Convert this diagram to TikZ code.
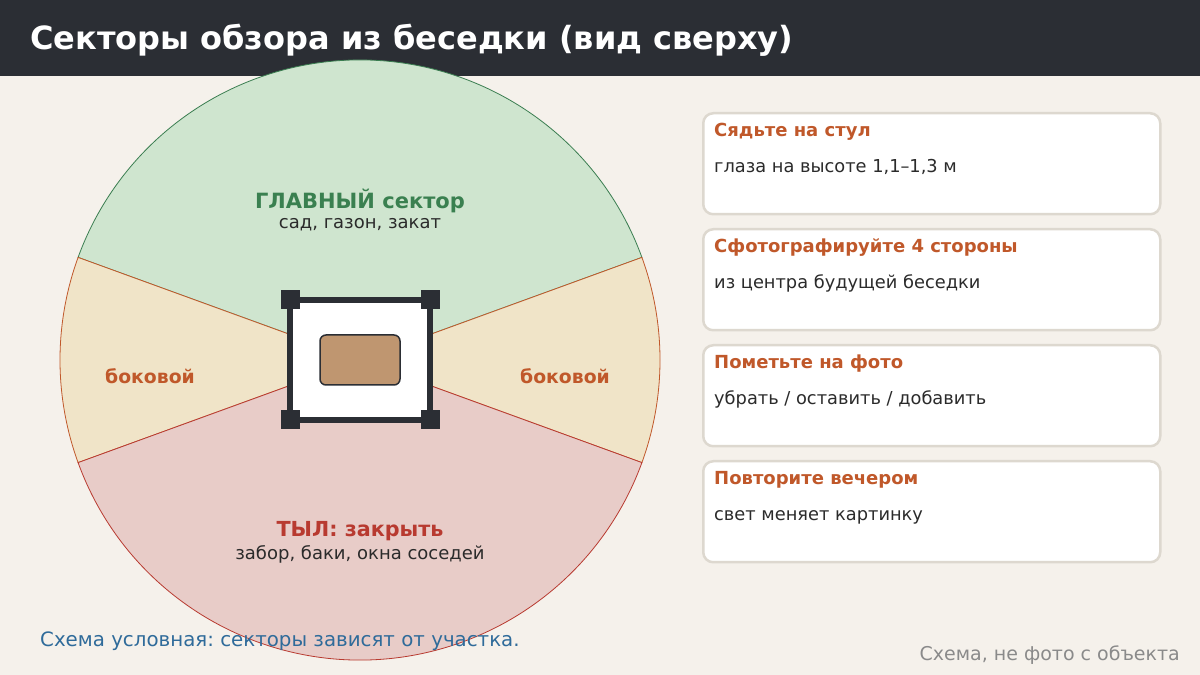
\documentclass[tikz,border=0pt]{standalone}
\usepackage{fontspec}
\setmainfont{DejaVu Sans}
\frenchspacing
\begin{document}
\begin{tikzpicture}[x=1pt,y=1pt,
  card/.style={draw=cardline,line width=2.5pt,fill=white,rounded corners=10pt,minimum width=457pt,minimum height=101pt,inner sep=0pt},
  cardtitle/.style={anchor=base west,text=accent,font=\fontsize{18}{21}\selectfont\bfseries,inner sep=0pt},
  cardbody/.style={anchor=base west,text=ink,font=\fontsize{17.8}{21}\selectfont,inner sep=0pt},
  post/.style={fill=frame,minimum width=19pt,minimum height=19pt,inner sep=0pt}]
\definecolor{bg}{HTML}{F5F1EB}
\definecolor{head}{HTML}{2B2E34}
\definecolor{frame}{HTML}{2B2E34}
\definecolor{gfill}{HTML}{CFE5CF}
\definecolor{gline}{HTML}{3A7D50}
\definecolor{sfill}{HTML}{F0E4C8}
\definecolor{sline}{HTML}{C0582A}
\definecolor{rfill}{HTML}{E8CCC8}
\definecolor{rline}{HTML}{B83A30}
\definecolor{accent}{HTML}{C0582A}
\definecolor{ink}{HTML}{2B2B2B}
\definecolor{cardline}{HTML}{DDD8CF}
\definecolor{table}{HTML}{BF9670}
\definecolor{note}{HTML}{2F6B9A}
\definecolor{gray}{HTML}{8A8A8A}
\definecolor{gtext}{HTML}{3A8050}
\definecolor{rtext}{HTML}{B83A30}
\useasboundingbox (0,0) rectangle (1200,675);
\fill[bg] (0,0) rectangle (1200,675);
\fill[head] (0,599) rectangle (1200,675);
\node[anchor=base west,text=white,font=\fontsize{32}{38}\selectfont\bfseries,inner sep=0pt] (title) at (30,625) {Секторы обзора из беседки (вид сверху)};
% sectors
\coordinate (C) at (360,315);
\filldraw[fill=gfill,draw=gline,line width=0.8pt] (C) -- ++(20:300) arc[start angle=20,end angle=160,radius=300] -- cycle;
\filldraw[fill=sfill,draw=sline,line width=0.8pt] (C) -- ++(160:300) arc[start angle=160,end angle=200,radius=300] -- cycle;
\filldraw[fill=sfill,draw=sline,line width=0.8pt] (C) -- ++(-20:300) arc[start angle=-20,end angle=20,radius=300] -- cycle;
\filldraw[fill=rfill,draw=rline,line width=0.8pt] (C) -- ++(200:300) arc[start angle=200,end angle=340,radius=300] -- cycle;
% gazebo
\filldraw[fill=white,draw=frame,line width=6pt] (290,255) rectangle (430,375);
\node[post] (p1) at (290,375) {};
\node[post] (p2) at (430,375) {};
\node[post] (p3) at (290,255) {};
\node[post] (p4) at (430,255) {};
\node[draw=frame,line width=1.5pt,fill=table,rounded corners=6pt,minimum width=80pt,minimum height=50pt,inner sep=0pt] (tbl) at (360,315) {};
% sector labels
\node[text=gtext,font=\fontsize{21}{24}\selectfont\bfseries,inner sep=0pt] (main) at (360,474) {ГЛАВНЫЙ сектор};
\node[text=ink,font=\fontsize{18}{22}\selectfont,inner sep=0pt] (mainsub) at (360,450) {сад, газон, закат};
\node[text=accent,font=\fontsize{18.8}{22}\selectfont\bfseries,inner sep=0pt] (sideL) at (150,299) {боковой};
\node[text=accent,font=\fontsize{18.8}{22}\selectfont\bfseries,inner sep=0pt] (sideR) at (565,299) {боковой};
\node[text=rtext,font=\fontsize{20.7}{24}\selectfont\bfseries,inner sep=0pt] (rear) at (360,144) {ТЫЛ: закрыть};
\node[text=ink,font=\fontsize{18}{22}\selectfont,inner sep=0pt] (rearsub) at (360,121) {забор, баки, окна соседей};
% cards
\node[card,anchor=north west] (c1) at (702,563) {};
\node[card,anchor=north west] (c2) at (702,447) {};
\node[card,anchor=north west] (c3) at (702,331) {};
\node[card,anchor=north west] (c4) at (702,215) {};
\node[cardtitle] (t1) at (714,538) {Сядьте на стул};
\node[cardbody] (b1) at (714,502) {глаза на высоте 1,1–1,3 м};
\node[cardtitle] (t2) at (714,422) {Сфотографируйте 4 стороны};
\node[cardbody] (b2) at (714,386) {из центра будущей беседки};
\node[cardtitle] (t3) at (714,306) {Пометьте на фото};
\node[cardbody] (b3) at (714,270) {убрать / оставить / добавить};
\node[cardtitle] (t4) at (714,190) {Повторите вечером};
\node[cardbody] (b4) at (714,154) {свет меняет картинку};
% footer
\node[anchor=base west,text=note,font=\fontsize{19.8}{23}\selectfont,inner sep=0pt] (foot) at (40,28) {Схема условная: секторы зависят от участка.};
\node[anchor=base east,text=gray,font=\fontsize{19}{22}\selectfont,inner sep=0pt] (credit) at (1180,15) {Схема, не фото с объекта};
\end{tikzpicture}
\end{document}
